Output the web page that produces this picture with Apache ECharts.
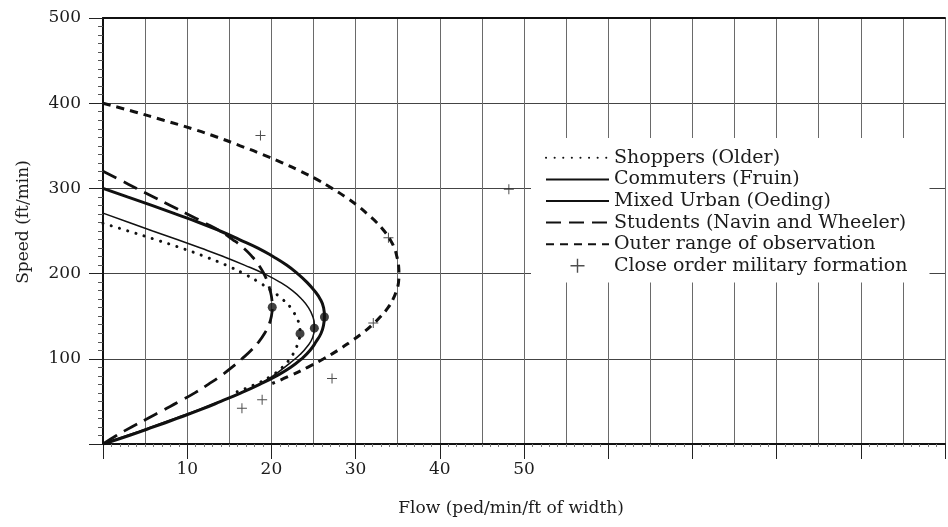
<!DOCTYPE html>
<html>
<head>
<meta charset="utf-8">
<script src="https://cdn.jsdelivr.net/npm/echarts@6/dist/echarts.min.js"></script>
<style>
html,body{margin:0;padding:0;background:#fff;}
#chart{width:948px;height:527px;}
</style>
</head>
<body>
<div id="chart"></div>
<script>
// Flow (ped/min/ft of width), Speed (ft/min) pairs
const shoppers = [[0,259],[3.0,250],[6.2,240],[9.3,230],[12.1,220],[14.6,210],[16.7,200],[18.5,190],[20.0,180],[21.3,170],[22.3,160],[22.9,150],[23.3,140],[23.4,130],[23.2,120],[22.8,110],[22.2,100],[21.3,90],[20.0,80],[18.1,70],[15.6,60],[15.1,58]];
const commuters = [[0,271],[3.1,260],[5.9,250],[8.8,240],[11.6,230],[14.3,220],[16.8,210],[19.1,200],[21.0,190],[22.5,180],[23.6,170],[24.4,160],[24.9,150],[25.1,140],[25.1,136],[24.9,125],[24.3,115],[23.4,105],[22.2,95],[20.9,85],[19.4,75],[17.5,65],[15.2,55],[12.6,45],[9.9,35],[7.1,25],[4.3,15],[1.4,5],[0,0]];
const mixedUrban = [[0,300],[2.9,290],[5.8,280],[8.6,270],[11.4,260],[13.9,250],[16.2,240],[18.4,230],[20.2,220],[21.8,210],[23.1,200],[24.2,190],[25.1,180],[25.8,170],[26.2,160],[26.3,150],[26.2,140],[25.9,130],[25.3,120],[24.6,110],[23.6,100],[22.3,90],[20.6,80],[18.6,70],[16.4,60],[14.0,50],[11.5,40],[8.8,30],[6.0,20],[3.1,10],[0,0]];
const students = [[0,320],[2.0,310],[4.0,300],[6.0,290],[8.0,280],[10.0,270],[12.0,260],[13.9,250],[15.4,240],[16.7,230],[17.7,220],[18.5,210],[19.1,200],[19.55,190],[19.85,180],[20.05,170],[20.1,160],[20.0,150],[19.7,140],[19.2,130],[18.5,120],[17.6,110],[16.5,100],[15.3,90],[14.0,80],[12.5,70],[10.9,60],[9.1,50],[7.2,40],[5.3,30],[3.4,20],[1.6,10],[0,0]];
const outerRange = [[0,400],[3.7,390],[7.2,380],[10.6,370],[13.6,360],[16.3,350],[18.9,340],[21.3,330],[23.5,320],[25.5,310],[27.2,300],[28.8,290],[30.2,280],[31.4,270],[32.5,260],[33.4,250],[34.1,240],[34.6,230],[34.9,220],[35.1,210],[35.15,200],[35.1,190],[34.85,180],[34.45,170],[33.85,160],[33.0,150],[32.0,140],[30.8,130],[29.4,120],[27.9,110],[26.2,100],[24.3,90],[22.2,80],[20.1,71]];
const peakPoints = [[26.3,149],[25.1,136],[23.4,129.5],[20.1,160.5]];
const military = [[18.7,362],[48.2,299],[33.9,242],[32.1,142],[27.2,77],[18.9,52],[16.5,42]];

const xTickLabels = [10,20,30,40,50];
const yTickLabels = [100,200,300,400,500];

const names = ['Shoppers (Older)','Commuters (Fruin)','Mixed Urban (Oeding)','Students (Navin and Wheeler)','Outer range of observation','Close order military formation'];

const plusPath = 'path://M4.5,0h1v4.5h4.5v1h-4.5v4.5h-1v-4.5h-4.5v-1h4.5z';
const serif = 'DejaVu Serif';
const ink = '#1c1c1c';
const hiddenDot = {opacity: 0, color: 'rgba(0,0,0,0)', borderWidth: 0};

const chart = echarts.init(document.getElementById('chart'), null, {renderer:'canvas'});
chart.setOption({
  animation: false,
  backgroundColor: '#fff',
  grid: {left: 103, right: -3, top: 18, bottom: 83, containLabel: false},
  xAxis: [
    {
      type: 'value', min: 0, max: 100, interval: 5, position: 'bottom',
      name: 'Flow (ped/min/ft of width)', nameLocation: 'middle', nameGap: 56,
      nameTextStyle: {fontFamily: serif, fontSize: 17, color: ink, padding: [0, 26, 0, 0]},
      axisLine: {show: false},
      axisTick: {show: false},
      axisLabel: {
        fontFamily: serif, fontSize: 17, color: ink, margin: 17,
        formatter: v => xTickLabels.indexOf(v) >= 0 ? String(v) : ''
      },
      splitLine: {show: true, lineStyle: {color: '#6a6a6a', width: 1}}
    },
    {
      type: 'value', min: 0, max: 100, interval: 10, position: 'bottom',
      axisLine: {show: true, onZero: false, lineStyle: {color: '#111', width: 2}},
      axisTick: {show: true, length: 15, lineStyle: {color: '#222', width: 1}},
      minorTick: {show: true, splitNumber: 10, length: 3, lineStyle: {color: '#777', width: 1}},
      axisLabel: {show: false},
      splitLine: {show: false}
    },
    {
      type: 'value', min: 0, max: 100, position: 'top',
      axisLine: {show: true, onZero: false, lineStyle: {color: '#111', width: 2}},
      axisTick: {show: false}, axisLabel: {show: false}, splitLine: {show: false}
    }
  ],
  yAxis: {
    type: 'value', min: 0, max: 500, interval: 100,
    name: 'Speed (ft/min)', nameLocation: 'middle', nameGap: 71,
    nameTextStyle: {fontFamily: serif, fontSize: 17, color: ink, padding: [0, 0, 0, 18]},
    axisLine: {show: true, onZero: false, lineStyle: {color: '#111', width: 2}},
    axisTick: {show: true, length: 14, lineStyle: {color: '#222', width: 1}},
    minorTick: {show: true, splitNumber: 10, length: 5, lineStyle: {color: '#555', width: 1}},
    axisLabel: {
      fontFamily: serif, fontSize: 17, color: ink, margin: 22,
      formatter: v => yTickLabels.indexOf(v) >= 0 ? String(v) : ''
    },
    splitLine: {show: true, lineStyle: {color: '#444', width: 1}}
  },
  legend: {
    orient: 'vertical', left: 531, top: 138,
    itemWidth: 63, itemHeight: 14, itemGap: 0,
    backgroundColor: '#fff', padding: [9, 22, 6, 14],
    textStyle: {fontFamily: serif, fontSize: 19, color: ink, lineHeight: 21.6},
    data: names.slice(0, 5).map(n => ({name: n, itemStyle: hiddenDot}))
      .concat([{name: names[5], icon: plusPath}])
  },
  series: [
    {name: names[0], type: 'line', data: shoppers, smooth: true, symbol: 'none',
     lineStyle: {color: '#111', width: 3, type: [0.1, 8.5], cap: 'round'}, itemStyle: {color: '#111'}},
    {name: names[1], type: 'line', data: commuters, smooth: true, symbol: 'none',
     lineStyle: {color: '#111', width: 1.5}, itemStyle: {color: '#111'}},
    {name: names[2], type: 'line', data: mixedUrban, smooth: true, symbol: 'none',
     lineStyle: {color: '#111', width: 3}, itemStyle: {color: '#111'}},
    {name: names[3], type: 'line', data: students, smooth: true, symbol: 'none',
     lineStyle: {color: '#111', width: 2.8, type: [15, 8]}, itemStyle: {color: '#111'}},
    {name: names[4], type: 'line', data: outerRange, smooth: true, symbol: 'none',
     lineStyle: {color: '#111', width: 3, type: [8, 6]}, itemStyle: {color: '#111'}},
    {name: 'Peak flow', type: 'scatter', data: peakPoints, symbol: 'circle', symbolSize: 9,
     itemStyle: {color: '#111'}},
    {name: names[5], type: 'scatter', data: military, symbol: plusPath, symbolSize: 10,
     itemStyle: {color: '#222'}}
  ]
});
</script>
</body>
</html>
